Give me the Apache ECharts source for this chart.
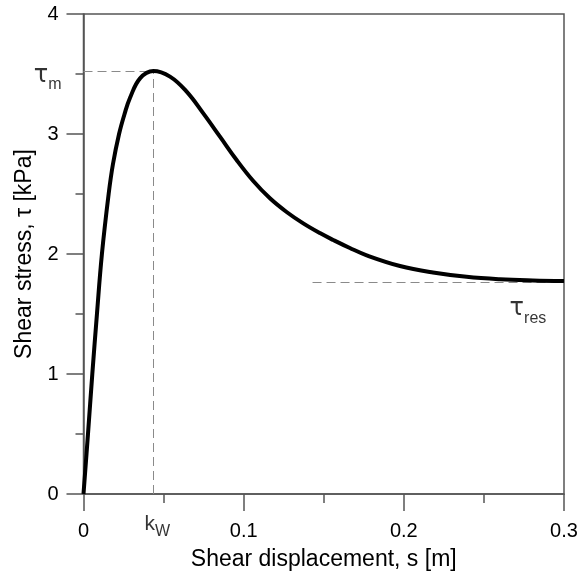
<!DOCTYPE html>
<html>
<head>
<meta charset="utf-8">
<script src="https://cdn.jsdelivr.net/npm/echarts@6/dist/echarts.min.js"></script>
<style>html,body{margin:0;padding:0;background:#fff}#c{width:587px;height:577px}</style>
</head>
<body>
<div id="c"></div>
<script>
// Curve: shear displacement s [m] vs shear stress tau [kPa]
var sValues = [0, 0.0028, 0.0055, 0.0084, 0.0115, 0.0157, 0.0184, 0.0222, 0.0257, 0.029, 0.0353, 0.0436, 0.054, 0.0644, 0.0748, 0.0852, 0.0956, 0.106, 0.1164, 0.1268, 0.1372, 0.1476, 0.1559, 0.1663, 0.1768, 0.1976, 0.2182, 0.2392, 0.26, 0.2806, 0.3];
var tauValues = [0, 0.5, 1.0, 1.5, 2.0, 2.5, 2.75, 3.0, 3.17, 3.30, 3.464, 3.525, 3.478, 3.353, 3.172, 2.978, 2.783, 2.608, 2.464, 2.350, 2.255, 2.174, 2.117, 2.050, 1.989, 1.90, 1.846, 1.81, 1.79, 1.78, 1.775];
var kw = 0.0436;
var tauM = 3.525;
var tauRes = 1.764;
var tauResStart = 0.143;
var xTicks = [0, 0.1, 0.2, 0.3];
var yTicks = [0, 1, 2, 3, 4];

var curve = sValues.map(function (s, i) { return [s, tauValues[i]]; });
var dash = { color: '#8a8a8a', width: 1, type: [9, 5] };
var subRich = {
  t: { fontFamily: 'DejaVu Sans', fontSize: 24, color: '#000', verticalAlign: 'bottom', lineHeight: 24 },
  s: { fontFamily: 'Liberation Sans', fontSize: 16, color: '#000', verticalAlign: 'bottom', lineHeight: 16, padding: [0, 0, -5, 0] },
  k: { fontFamily: 'Liberation Sans', fontSize: 21, color: '#000', verticalAlign: 'bottom', lineHeight: 21 }
};

var chart = echarts.init(document.getElementById('c'));
chart.setOption({
  animation: false,
  backgroundColor: '#fff',
  grid: { left: 83.5, right: 23, top: 14, bottom: 83, show: true, borderColor: '#555', borderWidth: 1.5, backgroundColor: 'transparent' },
  xAxis: {
    type: 'value', min: xTicks[0], max: xTicks[xTicks.length - 1], interval: 0.1,
    name: 'Shear displacement, s [m]', nameLocation: 'middle', nameGap: 54,
    nameTextStyle: { fontFamily: 'Liberation Sans', fontSize: 23, color: '#000' },
    axisLine: { lineStyle: { color: '#555', width: 1.5 } },
    axisTick: { show: true, inside: false, length: 17, lineStyle: { color: '#555', width: 1.5 } },
    minorTick: { show: true, splitNumber: 2, length: 9, lineStyle: { color: '#555', width: 1.5 } },
    axisLabel: { fontFamily: 'Liberation Sans', fontSize: 20, color: '#000', margin: 27, formatter: function (v) { return String(v); } },
    splitLine: { show: false }
  },
  yAxis: {
    type: 'value', min: yTicks[0], max: yTicks[yTicks.length - 1], interval: 1,
    name: 'Shear stress, \u03c4 [kPa]', nameLocation: 'middle', nameGap: 45,
    nameTextStyle: { fontFamily: 'Liberation Sans', fontSize: 23, color: '#000' },
    axisLine: { show: true, lineStyle: { color: '#555', width: 1.5 } },
    axisTick: { show: true, inside: false, length: 17, lineStyle: { color: '#555', width: 1.5 } },
    minorTick: { show: true, splitNumber: 2, length: 8, lineStyle: { color: '#555', width: 1.5 } },
    axisLabel: { fontFamily: 'Liberation Sans', fontSize: 20, color: '#000', margin: 25 },
    splitLine: { show: false }
  },
  series: [
    {
      type: 'line', data: curve, smooth: 0.4, showSymbol: false, symbol: 'none',
      lineStyle: { color: '#000', width: 4 }, z: 5,
      markLine: {
        silent: true, symbol: ['none', 'none'], label: { show: false },
        lineStyle: dash,
        data: [
          [{ coord: [0, tauM] }, { coord: [kw, tauM] }],
          [{ coord: [kw, 0] }, { coord: [kw, tauM] }],
          [{ coord: [tauResStart, tauRes] }, { coord: [0.3, tauRes] }]
        ]
      }
    },
    {
      type: 'scatter', symbolSize: 0, silent: true, z: 6,
      data: [
        { value: [0, tauM], label: { show: true, position: 'left', distance: 22, offset: [0, 5], formatter: '{t|\u03c4}{s|m}', rich: subRich } },
        { value: [kw, 0], label: { show: true, position: 'bottom', distance: 20, offset: [4, 0], formatter: '{k|k}{s|W}', rich: subRich } },
        { value: [0.2775, 1.54], label: { show: true, position: 'inside', formatter: '{t|\u03c4}{s|res}', rich: subRich } }
      ]
    }
  ]
});
</script>
</body>
</html>
